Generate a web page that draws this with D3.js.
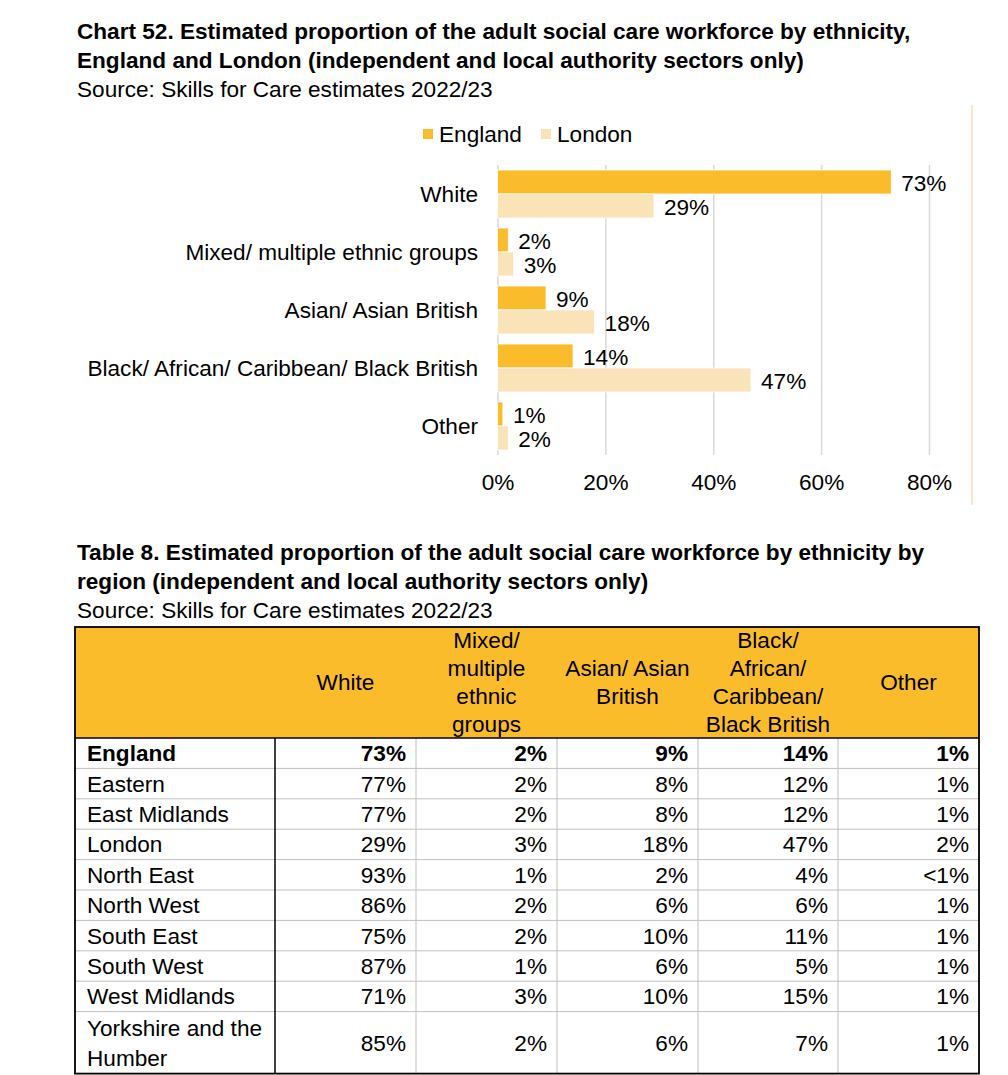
<!DOCTYPE html>
<html>
<head>
<meta charset="utf-8">
<script src="https://cdn.jsdelivr.net/npm/d3@7"></script>
<style>
  body { margin: 0; background: #fff; }
  text { font-family: "Liberation Sans", Arial, sans-serif; fill: #000; }
</style>
</head>
<body>
<div id="chart"></div>
<script>
// chart data
var categories = ["White", "Mixed/ multiple ethnic groups", "Asian/ Asian British", "Black/ African/ Caribbean/ Black British", "Other"];
var seriesNames = ["England", "London"];
var england = [73, 2, 9, 14, 1];
var london = [29, 3, 18, 47, 2];
var xTicks = [0, 20, 40, 60, 80];

// table data
var regions = ["England", "Eastern", "East Midlands", "London", "North East", "North West", "South East", "South West", "West Midlands", "Yorkshire and the Humber"];
var columns = ["White", "Mixed/ multiple ethnic groups", "Asian/ Asian British", "Black/ African/ Caribbean/ Black British", "Other"];
var colWhite = ["73%", "77%", "77%", "29%", "93%", "86%", "75%", "87%", "71%", "85%"];
var colMixed = ["2%", "2%", "2%", "3%", "1%", "2%", "2%", "1%", "3%", "2%"];
var colAsian = ["9%", "8%", "8%", "18%", "2%", "6%", "10%", "6%", "10%", "6%"];
var colBlack = ["14%", "12%", "12%", "47%", "4%", "6%", "11%", "5%", "15%", "7%"];
var colOther = ["1%", "1%", "1%", "2%", "<1%", "1%", "1%", "1%", "1%", "1%"];

var gold = "#FBBC2B", pale = "#FBE3B8";
var fs = 22.6;

var svg = d3.select("#chart").append("svg")
  .attr("width", 1008)
  .attr("height", 1075);

// titles
function lines(arr, x, y0, lh, bold) {
  arr.forEach(function (t, i) {
    svg.append("text")
      .attr("x", x).attr("y", y0 + i * lh)
      .attr("font-size", fs)
      .attr("font-weight", bold[i] ? "bold" : "normal")
      .text(t);
  });
}
lines(["Chart 52. Estimated proportion of the adult social care workforce by ethnicity,",
       "England and London (independent and local authority sectors only)",
       "Source: Skills for Care estimates 2022/23"], 77, 39, 29, [true, true, false]);

// right border of chart area
svg.append("line")
  .attr("x1", 972).attr("x2", 972).attr("y1", 105).attr("y2", 505)
  .attr("stroke", "#F9C89B").attr("stroke-width", 1);

// legend
var legend = svg.append("g").selectAll("g")
  .data(seriesNames)
  .enter().append("g")
  .attr("transform", function (d, i) { return "translate(" + (423 + i * 118) + ",0)"; });
legend.append("rect")
  .attr("x", 0).attr("y", 129).attr("width", 10).attr("height", 10)
  .attr("fill", function (d, i) { return i == 0 ? gold : pale; });
legend.append("text")
  .attr("x", 16).attr("y", 142)
  .attr("font-size", fs)
  .text(function (d) { return d; });

// scales
var x = d3.scaleLinear().domain([0, 80]).range([497.5, 929]);
var y = d3.scaleBand().domain(categories).range([165, 455])
  .paddingInner(10 / 58).paddingOuter(5 / 58);
var ySub = d3.scaleBand().domain(seriesNames).range([0, y.bandwidth()]);

// gridlines + tick labels
var axis = svg.append("g")
  .attr("transform", "translate(0,455)")
  .call(d3.axisBottom(x).tickValues(xTicks).tickSize(-290).tickPadding(19)
    .tickFormat(function (d) { return d + "%"; }));
axis.select(".domain").remove();
axis.selectAll("line").attr("stroke", "#d9d9d9").attr("stroke-width", 1.5);
axis.selectAll("text").attr("font-size", fs).attr("font-family", "Liberation Sans, Arial, sans-serif").attr("fill", "#000");

// category labels
svg.append("g").selectAll("text")
  .data(categories)
  .enter().append("text")
  .attr("x", 478)
  .attr("y", function (d) { return y(d) + y.bandwidth() / 2; })
  .attr("dy", "0.35em")
  .attr("text-anchor", "end")
  .attr("font-size", fs)
  .text(function (d) { return d; });

// bars
var rows = categories.map(function (c, i) {
  return { cat: c, vals: [{ s: "England", v: england[i] }, { s: "London", v: london[i] }] };
});
var grp = svg.append("g").selectAll("g")
  .data(rows)
  .enter().append("g")
  .attr("transform", function (d) { return "translate(0," + y(d.cat) + ")"; });
grp.selectAll("rect")
  .data(function (d) { return d.vals; })
  .enter().append("rect")
  .attr("x", x(0))
  .attr("y", function (d) { return ySub(d.s); })
  .attr("width", function (d) { return x(d.v) - x(0); })
  .attr("height", ySub.bandwidth())
  .attr("fill", function (d) { return d.s == "England" ? gold : pale; })
  .attr("stroke", "#fff").attr("stroke-width", 0.8);
grp.selectAll("text")
  .data(function (d) { return d.vals; })
  .enter().append("text")
  .attr("x", function (d) { return x(d.v) + 10; })
  .attr("y", function (d) { return ySub(d.s) + ySub.bandwidth() / 2 + 1; })
  .attr("dy", "0.35em")
  .attr("font-size", fs)
  .text(function (d) { return d.v + "%"; });

// table title
lines(["Table 8. Estimated proportion of the adult social care workforce by ethnicity by",
       "region (independent and local authority sectors only)",
       "Source: Skills for Care estimates 2022/23"], 77, 560, 29, [true, true, false]);

// table
var tLeft = 75, tRight = 979, tTop = 627, hBottom = 738;
var colX = [75, 275, 416, 557, 698, 838, 979];
var rowH = 30.4;
var rowY = [hBottom];
regions.forEach(function (r, i) { rowY.push(rowY[i] + (i == regions.length - 1 ? 62 : rowH)); });
var tBottom = rowY[rowY.length - 1];
var colData = [colWhite, colMixed, colAsian, colBlack, colOther];
var headLines = [["White"], ["Mixed/", "multiple", "ethnic", "groups"], ["Asian/ Asian", "British"],
                 ["Black/", "African/", "Caribbean/", "Black British"], ["Other"]];

var tbl = svg.append("g");
tbl.append("rect")
  .attr("x", tLeft).attr("y", tTop).attr("width", tRight - tLeft).attr("height", hBottom - tTop)
  .attr("fill", gold);

// grey inner lines
rowY.slice(1, -1).forEach(function (yy) {
  tbl.append("line").attr("x1", tLeft).attr("x2", tRight).attr("y1", yy).attr("y2", yy)
    .attr("stroke", "#bfbfbf").attr("stroke-width", 1);
});
colX.slice(2, -1).forEach(function (xx) {
  tbl.append("line").attr("x1", xx).attr("x2", xx).attr("y1", hBottom).attr("y2", tBottom)
    .attr("stroke", "#bfbfbf").attr("stroke-width", 1);
});
// black lines
tbl.append("line").attr("x1", colX[1]).attr("x2", colX[1]).attr("y1", hBottom).attr("y2", tBottom)
  .attr("stroke", "#000").attr("stroke-width", 1.5);
tbl.append("line").attr("x1", tLeft).attr("x2", tRight).attr("y1", hBottom).attr("y2", hBottom)
  .attr("stroke", "#000").attr("stroke-width", 1.5);
tbl.append("rect")
  .attr("x", tLeft).attr("y", tTop).attr("width", tRight - tLeft).attr("height", tBottom - tTop)
  .attr("fill", "none").attr("stroke", "#000").attr("stroke-width", 1.8);

// header texts
headLines.forEach(function (hl, j) {
  var cx = (colX[j + 1] + colX[j + 2]) / 2;
  var mid = (tTop + hBottom) / 2;
  hl.forEach(function (t, k) {
    tbl.append("text")
      .attr("x", cx)
      .attr("y", mid + (k - (hl.length - 1) / 2) * 28)
      .attr("dy", "0.35em")
      .attr("text-anchor", "middle")
      .attr("font-size", fs)
      .text(t);
  });
});

// body rows
regions.forEach(function (r, i) {
  var mid = (rowY[i] + rowY[i + 1]) / 2;
  var bold = i == 0 ? "bold" : "normal";
  var lab = i == regions.length - 1 ? ["Yorkshire and the", "Humber"] : [r];
  lab.forEach(function (t, k) {
    tbl.append("text")
      .attr("x", 87)
      .attr("y", mid + (k - (lab.length - 1) / 2) * 30)
      .attr("dy", "0.35em")
      .attr("font-size", fs).attr("font-weight", bold)
      .text(t);
  });
  colData.forEach(function (col, j) {
    tbl.append("text")
      .attr("x", colX[j + 2] - 10)
      .attr("y", mid)
      .attr("dy", "0.35em")
      .attr("text-anchor", "end")
      .attr("font-size", fs).attr("font-weight", bold)
      .text(col[i]);
  });
});
</script>
</body>
</html>
